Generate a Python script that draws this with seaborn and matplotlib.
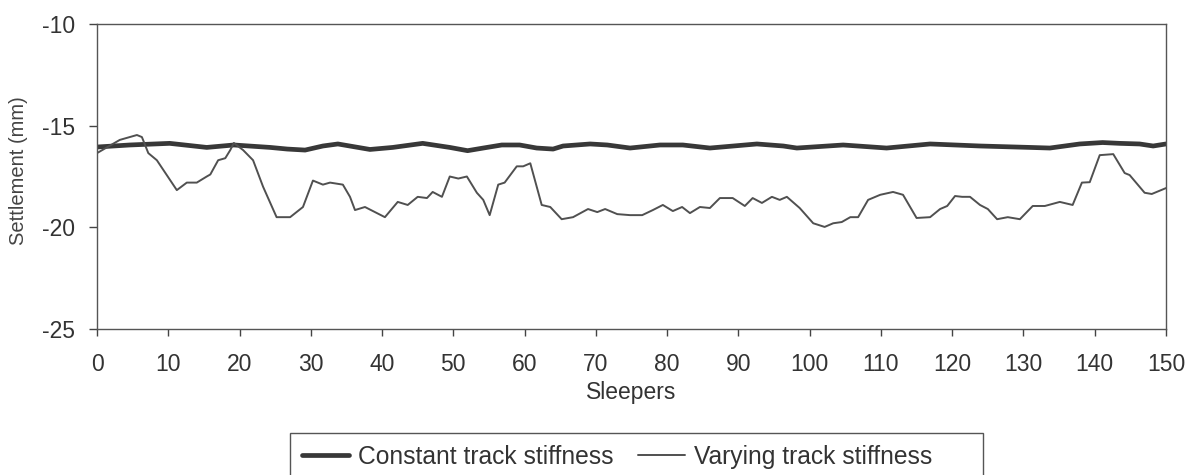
import matplotlib
matplotlib.use("Agg")
import matplotlib.pyplot as plt
from matplotlib.patches import Rectangle
import seaborn as sns
import pandas as pd

# Varying track stiffness (sleeper, settlement mm)
vary_x = [0, 3.2, 5.6, 6.3, 7.2, 8.4, 11.2, 12.6, 14, 15.4, 15.9, 17, 18, 18.7, 19.2,
          20.5, 21.9, 23.3, 25.2, 27.1, 28.9, 30.3, 31.7, 32.7, 34.5, 35.5, 36.2, 37.6,
          40.4, 42.2, 43.6, 45, 46.3, 47.1, 48.4, 49.5, 50.7, 51.9, 53.3, 54.2, 55.1,
          56.3, 57.2, 58.9, 59.8, 60.8, 62.4, 63.6, 65.2, 66.8, 68.9, 70.2, 71.3, 73,
          74.8, 76.5, 78, 79.4, 80.8, 82.1, 83.2, 84.6, 86, 87.4, 89.2, 90.9, 92, 93.3,
          94.7, 95.8, 96.8, 98.6, 100.5, 102.1, 103.3, 104.5, 105.7, 106.8, 108.2,
          109.9, 111.7, 113.1, 115, 116.9, 118.3, 119.3, 120.4, 121.4, 122.5, 123.9,
          125, 126.3, 127.8, 129.5, 131.3, 133, 135.1, 136.9, 138.2, 139.3, 140.7,
          142.6, 144.2, 144.9, 147, 148, 150]
vary_y = [-16.35, -15.7, -15.46, -15.56, -16.35, -16.7, -18.17, -17.8, -17.8, -17.5, -17.4,
          -16.7, -16.6, -16.2, -15.85, -16.2, -16.7, -18.0, -19.5, -19.5, -19.0, -17.7,
          -17.9, -17.8, -17.9, -18.5, -19.15, -19.0, -19.5, -18.75, -18.9, -18.5, -18.56,
          -18.26, -18.5, -17.5, -17.6, -17.5, -18.3, -18.65, -19.4, -17.9, -17.8, -17.0,
          -17.0, -16.85, -18.9, -19.0, -19.6, -19.5, -19.1, -19.25, -19.1, -19.35, -19.4,
          -19.4, -19.15, -18.9, -19.2, -19.0, -19.3, -19.0, -19.05, -18.56, -18.56,
          -18.95, -18.56, -18.8, -18.5, -18.65, -18.5, -19.05, -19.8, -19.98, -19.8,
          -19.74, -19.5, -19.5, -18.65, -18.4, -18.26, -18.4, -19.54, -19.5, -19.1,
          -18.95, -18.46, -18.5, -18.5, -18.9, -19.1, -19.6, -19.5, -19.6, -18.95,
          -18.95, -18.75, -18.9, -17.8, -17.78, -16.45, -16.4, -17.33, -17.43, -18.3,
          -18.36, -18.07]

# Constant track stiffness
const_x = [0, 4.6, 10.2, 15.4, 19.2, 24.3, 26.7, 29.2, 31.7, 33.8, 38.3, 41.5, 45.7,
           49.5, 52, 54.2, 56.8, 59.3, 61.7, 64, 65.4, 69.2, 71.6, 74.8, 79, 82.2, 86,
           92.6, 96.3, 98.2, 104.7, 110.8, 116.9, 123.9, 130.9, 133.7, 137.9, 141.1,
           143.5, 146.3, 148.2, 150]
const_y = [-16.05, -15.95, -15.87, -16.07, -15.95, -16.07, -16.15, -16.2, -16.0, -15.9,
           -16.17, -16.07, -15.87, -16.07, -16.23, -16.1, -15.95, -15.95, -16.1, -16.15,
           -16.0, -15.9, -15.95, -16.1, -15.95, -15.95, -16.1, -15.9, -16.0, -16.1,
           -15.95, -16.1, -15.9, -16.0, -16.07, -16.1, -15.9, -15.83, -15.87, -15.9,
           -16.0, -15.9]

x_ticks = list(range(0, 151, 10))
y_ticks = [-25, -20, -15, -10]

sns.set_style("white")
plt.rcParams['font.family'] = ['Liberation Sans', 'DejaVu Sans']
plt.rcParams['axes.unicode_minus'] = False

df_c = pd.DataFrame({"Sleepers": const_x, "Settlement": const_y})
df_v = pd.DataFrame({"Sleepers": vary_x, "Settlement": vary_y})

W, H = 1198, 475
fig = plt.figure(figsize=(W / 100, H / 100), dpi=100)
ax = fig.add_axes([97 / W, 1 - 329 / H, (1166 - 97) / W, (329 - 24) / H])

sns.lineplot(data=df_c, x="Sleepers", y="Settlement", ax=ax, color="#383838",
             linewidth=3.4, label="Constant track stiffness", sort=False)
sns.lineplot(data=df_v, x="Sleepers", y="Settlement", ax=ax, color="#505050",
             linewidth=1.4, label="Varying track stiffness", sort=False)

ax.set_xlim(0, 150)
ax.set_ylim(-25, -10)
ax.set_xticks(x_ticks)
ax.set_yticks(y_ticks)
ax.tick_params(axis='both', labelsize=16.5, colors="#444444", labelcolor="#333333",
               direction='out', width=1)
ax.tick_params(axis='y', length=6, left=True, pad=10)
ax.tick_params(axis='x', length=5, bottom=True, pad=12)
for s in ax.spines.values():
    s.set_color("#555555")
    s.set_linewidth(1.0)
ax.set_xlabel("Sleepers", fontsize=16.5, color="#333333", labelpad=4)
ax.set_ylabel("Settlement (mm)", fontsize=14.5, color="#444444", labelpad=10)
ax.yaxis.label.set_y(0.52)

leg = ax.legend(loc="center left", bbox_to_anchor=(302 / W, 1 - 457 / H),
                bbox_transform=fig.transFigure, ncol=2, fontsize=17.7,
                frameon=False, borderpad=0, borderaxespad=0,
                handlelength=1.9, columnspacing=1.0, handletextpad=0.38)
for t in leg.get_texts():
    t.set_color("#333333")

# legend frame (Excel-style box, cut at the bottom edge)
fig.patches.append(Rectangle((290 / W, -0.02), (983 - 290) / W, 0.02 + (475 - 433) / H,
                             transform=fig.transFigure, fill=False,
                             edgecolor="#555555", linewidth=1.0))

fig.savefig("out.png", dpi=100)
